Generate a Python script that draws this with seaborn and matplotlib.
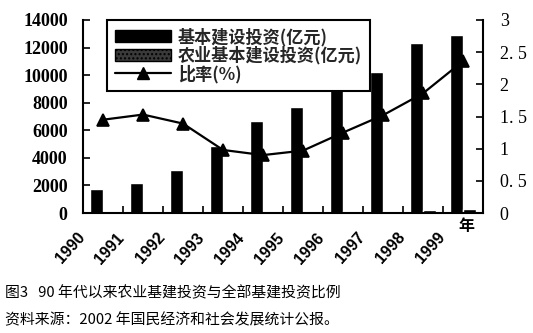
import matplotlib
matplotlib.use("Agg")
import matplotlib.pyplot as plt
import matplotlib.transforms as mtransforms
from matplotlib.patches import Patch
from matplotlib.lines import Line2D
from matplotlib.ticker import FuncFormatter, FixedLocator
import seaborn as sns
import pandas as pd

years = ["1990", "1991", "1992", "1993", "1994", "1995", "1996", "1997", "1998", "1999"]
total_invest = [1750, 2200, 3150, 4850, 6650, 7700, 8950, 10250, 12350, 12900]
agri_invest = [25, 33, 44, 47, 60, 75, 111, 154, 227, 302]
ratio = [1.45, 1.53, 1.39, 0.98, 0.90, 0.97, 1.25, 1.52, 1.86, 2.36]
series_names = ["基本建设投资(亿元)", "农业基本建设投资(亿元)", "比率(%)"]
left_ticks = [0, 2000, 4000, 6000, 8000, 10000, 12000, 14000]
right_ticks = [0, 0.5, 1, 1.5, 2, 2.5, 3]
title_text = "图3   90 年代以来农业基建投资与全部基建投资比例"
source_text = "资料来源：2002 年国民经济和社会发展统计公报。"
year_unit = "年"

sns.set_theme(style="white")
plt.rcParams["font.family"] = ["Noto Sans CJK SC", "DejaVu Sans"]

bars = pd.DataFrame({
    "year": years * 2,
    "series": [series_names[0]] * len(years) + [series_names[1]] * len(years),
    "value": total_invest + agri_invest,
})
line = pd.DataFrame({"year": years, "ratio": ratio})

fig = plt.figure(figsize=(5.33, 3.33), dpi=100)
fig.patch.set_facecolor("white")
ax = fig.add_axes([83 / 533, (333 - 213) / 333, 400 / 533, 193 / 333])

sns.barplot(data=bars, x="year", y="value", hue="series",
            palette=["black", "black"], width=0.66, dodge=True,
            ax=ax, legend=False, saturation=1)

ax2 = ax.twinx()
sns.pointplot(data=line, x="year", y="ratio", ax=ax2, color="black",
              markers="^", linestyles="-", markersize=8, linewidth=1.6)

ax.set_xlim(-0.5, len(years) - 0.5)
ax.set_ylim(0, 14000)
ax2.set_ylim(0, 3)
ax.set_xlabel("")
ax.set_ylabel("")
ax2.set_xlabel("")
ax2.set_ylabel("")

for a in (ax, ax2):
    a.spines["top"].set_visible(False)
    for s in ("left", "right", "bottom"):
        a.spines[s].set_linewidth(1.5)
        a.spines[s].set_color("black")
    a.set_facecolor("none")
ax.spines["right"].set_visible(False)
ax2.spines["left"].set_visible(False)
ax2.spines["bottom"].set_visible(False)

ax.set_yticks(left_ticks)
ax.yaxis.set_major_formatter(FuncFormatter(lambda v, p: "%d" % v))
ax.tick_params(axis="y", direction="in", length=5, width=1.2, pad=11,
               left=True, colors="black", labelsize=13)
ax2.set_yticks(right_ticks)
ax2.yaxis.set_major_formatter(FuncFormatter(lambda v, p: ("%g" % v).replace(".", ". ")))
ax2.tick_params(axis="y", direction="in", length=5, width=1.2, pad=12,
                right=True, colors="black", labelsize=13)

# category ticks at boundaries, labels drawn manually rotated
ax.set_xticks(range(len(years)))
ax.set_xticklabels([])
ax.tick_params(axis="x", which="major", length=0)
ax.xaxis.set_minor_locator(FixedLocator([i + 0.5 for i in range(len(years) - 1)]))
ax.tick_params(axis="x", which="minor", direction="in", length=5, width=1.2,
               bottom=True, colors="black")

trans = mtransforms.blended_transform_factory(ax.transData, ax.transAxes)
off = mtransforms.ScaledTranslation(-0.21, -0.22, fig.dpi_scale_trans)
for i, y in enumerate(years):
    ax.text(i, 0, y, transform=trans + off, rotation=48, ha="right", va="center",
            rotation_mode="anchor", family="Liberation Sans", fontweight="bold",
            fontsize=11.5, color="black")

fig.text(466 / 533, 1 - 226 / 333, year_unit, ha="center", va="center",
         fontsize=11.5, fontweight="bold", color="black")

handles = [
    Patch(facecolor="black", edgecolor="black"),
    Patch(facecolor="#3a3a3a", edgecolor="black", hatch="...."),
    Line2D([0], [0], color="black", linewidth=1.6, marker="^", markersize=8),
]
leg = ax2.legend(handles, series_names, loc="upper left",
                 bbox_to_anchor=(0.06, 1.0), frameon=True, fancybox=False,
                 framealpha=1, edgecolor="black", handlelength=3.3,
                 handletextpad=0.4, borderpad=0.45, labelspacing=0.0,
                 borderaxespad=0, prop={"size": 12.3, "weight": "bold"})
leg.get_frame().set_linewidth(1.5)

fig.canvas.draw()
for lab in ax.get_yticklabels():
    lab.set_family(["Liberation Serif"])
    lab.set_fontweight("bold")
for lab in ax2.get_yticklabels():
    lab.set_family(["Liberation Serif"])

fig.text(5 / 533, 1 - 293 / 333, title_text, ha="left", va="center",
         fontsize=10.7, color="black")
fig.text(5 / 533, 1 - 320 / 333, source_text, ha="left", va="center",
         fontsize=10.7, color="black")

fig.savefig("out.png", dpi=100, facecolor="white")
